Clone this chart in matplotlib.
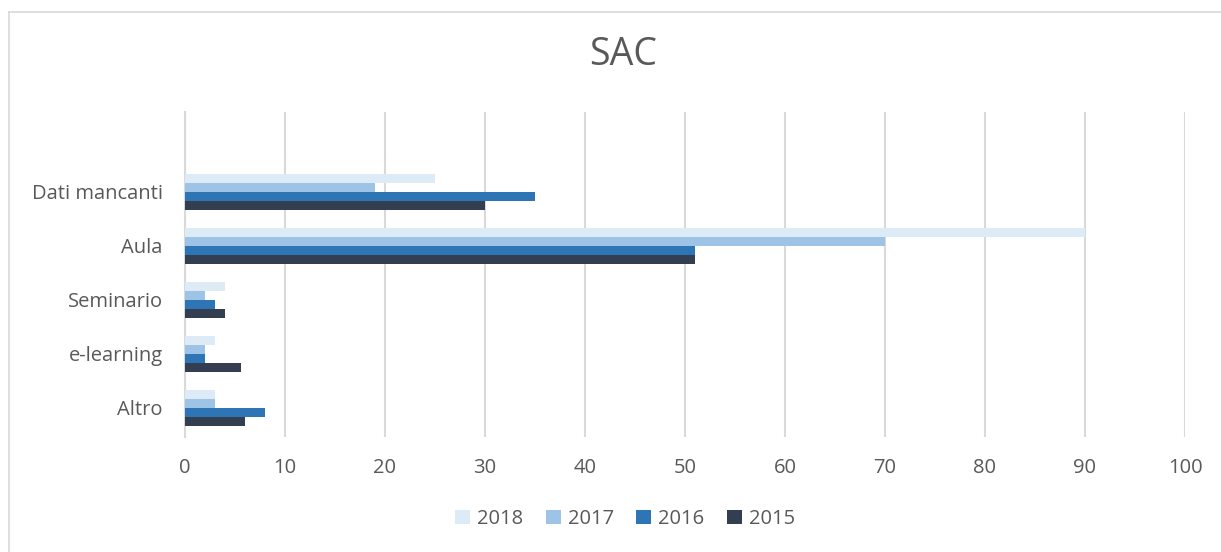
import matplotlib
matplotlib.use("Agg")
import matplotlib.pyplot as plt
import numpy as np

plt.rcParams['font.family'] = ['Open Sans', 'DejaVu Sans']

categories = ['Altro', 'e-learning', 'Seminario', 'Aula', 'Dati mancanti']
years = ['2018', '2017', '2016', '2015']
v2018 = [3, 3, 4, 90, 25]
v2017 = [3, 2, 2, 70, 19]
v2016 = [8, 2, 3, 51, 35]
v2015 = [6, 5.6, 4, 51, 30]
colors = ['#DDEBF7', '#9DC3E6', '#2E75B6', '#333F50']

series = [v2018, v2017, v2016, v2015]
txt = '#595959'

fig = plt.figure(figsize=(12.21, 5.52), dpi=100)
ax = fig.add_axes([185/1221, 1-437/552, 1000/1221, 325/552])

y = np.arange(len(categories))
h = 0.167
offsets = [1.5*h, 0.5*h, -0.5*h, -1.5*h]
for vals, c, off, lab in zip(series, colors, offsets, years):
    ax.barh(y + off, vals, height=h, color=c, label=lab, zorder=3)

ax.set_xlim(0, 100)
ax.set_ylim(-0.54, 5.48)
ax.set_xticks(range(0, 101, 10))
ax.set_yticks(y)
ax.set_yticklabels(categories)
ax.grid(axis='x', color='#D9D9D9', linewidth=1.5, zorder=0)
for s in ['top', 'right', 'bottom']:
    ax.spines[s].set_visible(False)
ax.spines['left'].set_color('#D9D9D9')
ax.spines['left'].set_linewidth(1.5)
ax.tick_params(axis='both', length=0, labelsize=14.5, labelcolor=txt)
ax.tick_params(axis='x', pad=15)
ax.tick_params(axis='y', pad=16)

fig.text(623/1221, 1-55/552, 'SAC', ha='center', va='center', fontsize=27, color=txt)

leg = fig.legend(loc='center', bbox_to_anchor=(625/1221, 1-519/552), ncol=4, frameon=False,
                 fontsize=14.5, handlelength=0.75, handleheight=0.75, columnspacing=1.1,
                 handletextpad=0.35)
for t in leg.get_texts():
    t.set_color(txt)

# chart border (top and left)
fig.add_artist(plt.Line2D([9/1221, 1], [1-12/552, 1-12/552], color='#D9D9D9', linewidth=1.2))
fig.add_artist(plt.Line2D([9/1221, 9/1221], [0, 1-12/552], color='#D9D9D9', linewidth=1.2))

fig.savefig('out.png', dpi=100)
